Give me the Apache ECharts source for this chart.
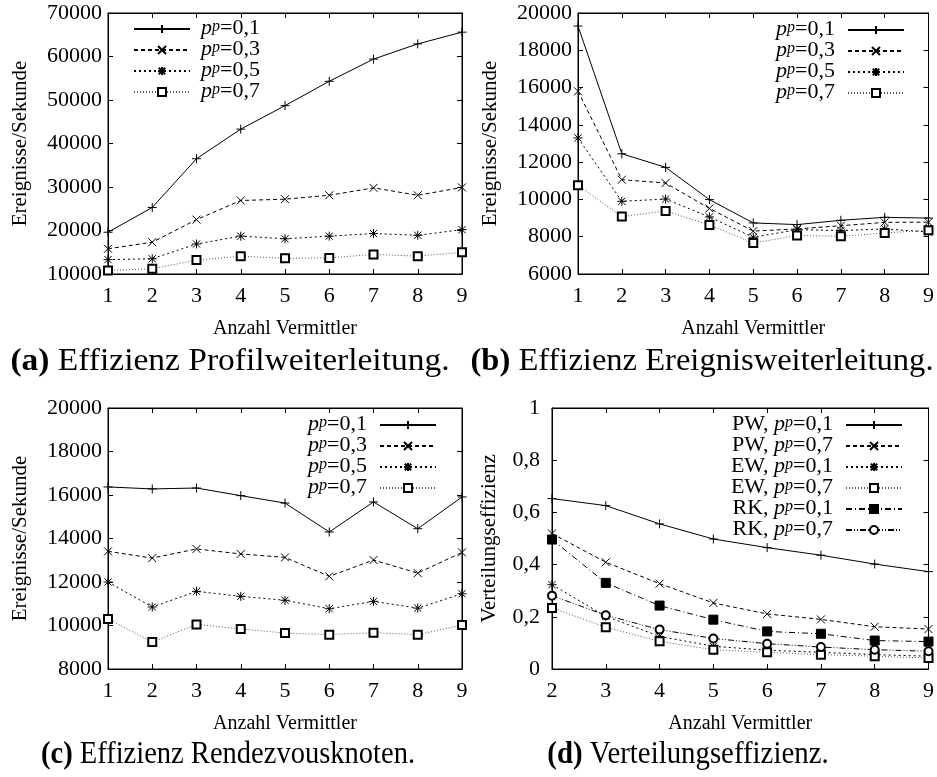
<!DOCTYPE html>
<html>
<head>
<meta charset="utf-8">
<script src="https://cdn.jsdelivr.net/npm/echarts@6/dist/echarts.min.js"></script>
<style>
  html, body { margin: 0; padding: 0; background: #fff; }
  #chart { width: 937px; height: 777px; }
</style>
</head>
<body>
<div id="chart"></div>
<script>
// x-Werte (Anzahl Vermittler)
const vermittler = [1, 2, 3, 4, 5, 6, 7, 8, 9];
const vermittlerD = [2, 3, 4, 5, 6, 7, 8, 9];

// (a) Effizienz Profilweiterleitung
const profilP01 = [19600, 25300, 36500, 43300, 48700, 54300, 59400, 62900, 65600];
const profilP03 = [15800, 17300, 22500, 26900, 27200, 28100, 29800, 28100, 29900];
const profilP05 = [13300, 13500, 16900, 18700, 18100, 18700, 19300, 18900, 20200];
const profilP07 = [10800, 11200, 13200, 14100, 13600, 13700, 14500, 14100, 15000];

// (b) Effizienz Ereignisweiterleitung
const ereignisP01 = [19300, 12450, 11720, 9990, 8740, 8650, 8880, 9040, 9000];
const ereignisP03 = [15800, 11060, 10880, 9520, 8300, 8420, 8590, 8770, 8780];
const ereignisP05 = [13300, 9900, 10020, 9060, 7970, 8380, 8330, 8420, 8250];
const ereignisP07 = [10760, 9080, 9380, 8630, 7660, 8070, 8020, 8200, 8350];

// (c) Effizienz Rendezvousknoten
const rendezvousP01 = [16370, 16280, 16320, 15970, 15630, 14300, 15680, 14450, 15910];
const rendezvousP03 = [13410, 13100, 13520, 13290, 13130, 12260, 13010, 12410, 13360];
const rendezvousP05 = [12000, 10850, 11570, 11340, 11160, 10770, 11110, 10800, 11460];
const rendezvousP07 = [10300, 9240, 10050, 9840, 9650, 9580, 9670, 9580, 10020];

// (d) Verteilungseffizienz
const verteilPW01 = [0.653, 0.626, 0.556, 0.498, 0.465, 0.436, 0.402, 0.373];
const verteilPW07 = [0.519, 0.409, 0.327, 0.253, 0.211, 0.190, 0.162, 0.153];
const verteilEW01 = [0.323, 0.202, 0.125, 0.087, 0.072, 0.064, 0.055, 0.049];
const verteilEW07 = [0.234, 0.160, 0.106, 0.074, 0.064, 0.055, 0.049, 0.042];
const verteilRK01 = [0.496, 0.330, 0.243, 0.189, 0.144, 0.135, 0.109, 0.105];
const verteilRK07 = [0.281, 0.206, 0.151, 0.117, 0.097, 0.084, 0.074, 0.068];

const namesP = ['0,1', '0,3', '0,5', '0,7'];
const namesD = ['PW 0,1', 'PW 0,7', 'EW 0,1', 'EW 0,7', 'RK 0,1', 'RK 0,7'];
const xName = 'Anzahl Vermittler';
const yNames = ['Ereignisse/Sekunde', 'Ereignisse/Sekunde', 'Ereignisse/Sekunde', 'Verteilungseffizienz'];
const captions = ['(a)|Effizienz Profilweiterleitung.', '(b)|Effizienz Ereignisweiterleitung.',
  '(c)|Effizienz Rendezvousknoten.', '(d)|Verteilungseffizienz.'];

const FONT = '"Liberation Serif", "Times New Roman", serif';

// gnuplot-artige Linien-/Punkttypen
const PLUS = 'path://M5,0L5,10M0,5L10,5';
const CROSS = 'path://M0,0L10,10M0,10L10,0';
const STAR = 'path://M5,0L5,10M0,5L10,5M1,1L9,9M1,9L9,1';
const styles = [
  { symbol: PLUS, size: 9, dash: 'solid', color: '#000' },
  { symbol: CROSS, size: 8, dash: [4, 3], color: '#000' },
  { symbol: STAR, size: 9, dash: [2, 3], color: '#000' },
  { symbol: 'emptyRect', size: 8, dash: [1, 2], color: '#555' },
  { symbol: 'rect', size: 9, dash: [6, 3, 1, 3], color: '#000' },
  { symbol: 'emptyCircle', size: 8, dash: [6, 2, 1, 2, 1, 2], color: '#000' }
];

const grids = [
  { left: 108, top: 13, width: 354, height: 261 },
  { left: 578, top: 13, width: 354, height: 261 },
  { left: 108, top: 408, width: 354, height: 261 },
  { left: 552, top: 408, width: 377, height: 261 }
];
const xRange = [[1, 9], [1, 9], [1, 9], [2, 9]];
const yRange = [[10000, 70000, 10000], [6000, 20000, 2000], [8000, 20000, 2000], [0, 1, 0.2]];
const yNameGap = [77, 77, 77, 52];
const yLabelMargin = [6, 6, 6, 12];

function fmtD(v) {
  return String(+v.toFixed(1)).replace('.', ',');
}

const xAxes = [];
const yAxes = [];
grids.forEach((g, i) => {
  const tick = { show: true, inside: true, length: 5, lineStyle: { color: '#000', width: 1 } };
  xAxes.push({
    type: 'value', gridIndex: i, min: xRange[i][0], max: xRange[i][1], interval: 1,
    name: xName, nameLocation: 'middle', nameGap: 45,
    nameTextStyle: { fontFamily: FONT, fontSize: 20, color: '#000' },
    axisLine: { show: true, onZero: false, lineStyle: { color: '#000', width: 1 } },
    axisTick: tick, splitLine: { show: false },
    axisLabel: { fontFamily: FONT, fontSize: 22, color: '#000', margin: 11 }
  });
  yAxes.push({
    type: 'value', gridIndex: i, min: yRange[i][0], max: yRange[i][1], interval: yRange[i][2],
    name: yNames[i], nameLocation: 'middle', nameGap: yNameGap[i], nameRotate: 90,
    nameTextStyle: { fontFamily: FONT, fontSize: 21, color: '#000' },
    axisLine: { show: true, onZero: false, lineStyle: { color: '#000', width: 1 } },
    axisTick: tick, splitLine: { show: false },
    axisLabel: {
      fontFamily: FONT, fontSize: 22, color: '#000', margin: yLabelMargin[i],
      formatter: i === 3 ? fmtD : (v) => String(v)
    }
  });
});
// Spiegel-Ticks oben und rechts
grids.forEach((g, i) => {
  const tick = { show: true, inside: true, length: 5, lineStyle: { color: '#000', width: 1 } };
  xAxes.push({
    type: 'value', gridIndex: i, position: 'top', min: xRange[i][0], max: xRange[i][1], interval: 1,
    axisLine: { show: true, onZero: false, lineStyle: { color: '#000', width: 1 } },
    axisTick: tick, axisLabel: { show: false }, splitLine: { show: false }
  });
  yAxes.push({
    type: 'value', gridIndex: i, position: 'right', min: yRange[i][0], max: yRange[i][1], interval: yRange[i][2],
    axisLine: { show: true, onZero: false, lineStyle: { color: '#000', width: 1 } },
    axisTick: tick, axisLabel: { show: false }, splitLine: { show: false }
  });
});

function lineSeries(name, xs, ys, st, gi) {
  return {
    type: 'line', name: name, xAxisIndex: gi, yAxisIndex: gi,
    data: xs.map((x, k) => [x, ys[k]]),
    symbol: st.symbol, symbolSize: st.size, showAllSymbol: true,
    lineStyle: { color: st.color, width: 1, type: st.dash },
    itemStyle: { color: '#000', borderColor: '#000', borderWidth: 1 },
    emphasis: { disabled: true }, silent: true, animation: false
  };
}

const series = [];
[[profilP01, profilP03, profilP05, profilP07],
 [ereignisP01, ereignisP03, ereignisP05, ereignisP07],
 [rendezvousP01, rendezvousP03, rendezvousP05, rendezvousP07]].forEach((set, gi) => {
  set.forEach((ys, k) => series.push(lineSeries(namesP[k], vermittler, ys, styles[k], gi)));
});
[verteilPW01, verteilPW07, verteilEW01, verteilEW07, verteilRK01, verteilRK07].forEach((ys, k) => {
  series.push(lineSeries(namesD[k], vermittlerD, ys, styles[k], 3));
});

const rich = {
  i: { fontFamily: FONT, fontSize: 22, fontStyle: 'italic', color: '#000', lineHeight: 20, verticalAlign: 'bottom' },
  s: { fontFamily: FONT, fontSize: 16, fontStyle: 'italic', color: '#000', lineHeight: 12, verticalAlign: 'top' },
  n: { fontFamily: FONT, fontSize: 22, color: '#000', lineHeight: 20, verticalAlign: 'bottom' },
  gl: { width: 6, lineHeight: 20 },
  gr: { width: 8, lineHeight: 20 }
};

function legendText(name, side) {
  const parts = name.split(' ');
  const val = parts.length > 1 ? parts[1] : parts[0];
  const pre = parts.length > 1 ? '{n|' + parts[0] + ', }' : '';
  const body = pre + '{i|p}{s|p}{n|=' + val + '}';
  return side === 'left' ? '{gl| }' + body : body + '{gr| }';
}

function makeLegend(data, pos, align) {
  return Object.assign({
    data: data, orient: 'vertical', align: align, itemWidth: 56, itemHeight: 10, itemGap: -2,
    selectedMode: false, padding: 0,
    formatter: (n) => legendText(n, align),
    textStyle: { fontFamily: FONT, fontSize: 22, color: '#000', rich: rich }
  }, pos);
}

const legends = [
  makeLegend(namesP, { left: 133, top: 17 }, 'left'),
  makeLegend(namesP, { right: 32, top: 18 }, 'right'),
  makeLegend(namesP, { right: 500, top: 413 }, 'right'),
  makeLegend(namesD, { right: 34, top: 413 }, 'right')
];

const capPos = [[230, 362], [702, 362], [228, 755], [688, 755]];
const capScale = [1.08, 1.05, 0.92, 0.93];
const graphics = captions.map((c, i) => {
  const p = c.split('|');
  return {
    type: 'text', x: capPos[i][0], y: capPos[i][1], scaleX: capScale[i], silent: true,
    style: {
      text: '{b|' + p[0] + '} ' + p[1],
      font: '31px ' + FONT, fill: '#000', align: 'center', verticalAlign: 'middle',
      rich: { b: { fontFamily: FONT, fontSize: 31, fontWeight: 'bold', fill: '#000' } }
    }
  };
});

const myChart = echarts.init(document.getElementById('chart'), null, { renderer: 'canvas' });
myChart.setOption({
  animation: false,
  backgroundColor: '#fff',
  textStyle: { fontFamily: FONT, color: '#000' },
  grid: grids.map((g) => Object.assign({ show: true, borderColor: '#000', borderWidth: 1, containLabel: false }, g)),
  xAxis: xAxes,
  yAxis: yAxes,
  legend: legends,
  series: series,
  graphic: graphics
});
</script>
</body>
</html>
